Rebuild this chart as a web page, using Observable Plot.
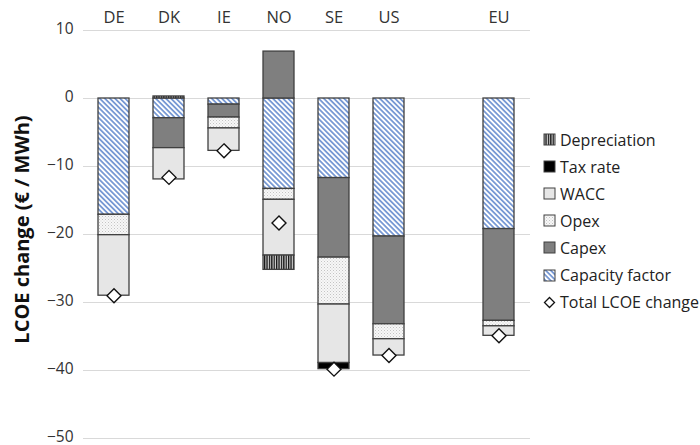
<!DOCTYPE html>
<html>
<head>
<meta charset="utf-8">
<script src="https://cdn.jsdelivr.net/npm/d3@7"></script>
<script src="https://cdn.jsdelivr.net/npm/@observablehq/plot@0.6"></script>
<style>
  body { margin: 0; background: #fff; font-family: "Open Sans", sans-serif; }
  #wrap { position: relative; width: 700px; height: 445px; }
  #legend { position: absolute; left: 543px; top: 126px; color: #222; font-size: 16px; }
  #legend .row { display: flex; align-items: center; height: 27.1px; }
  #legend svg { margin-right: 4px; }
</style>
</head>
<body>
<svg width="0" height="0" style="position:absolute">
  <defs>
    <pattern id="pat-cf" width="3.6" height="3.6" patternUnits="userSpaceOnUse" patternTransform="rotate(-45)">
      <rect width="3.6" height="3.6" fill="#fff"></rect>
      <line x1="0.9" y1="0" x2="0.9" y2="3.6" stroke="#4472c4" stroke-width="1.3"></line>
    </pattern>
    <pattern id="pat-opex" width="3" height="3" patternUnits="userSpaceOnUse">
      <rect width="3" height="3" fill="#f7f7f7"></rect>
      <rect x="0" y="0" width="1" height="1" fill="#c4c4c4"></rect>
      <rect x="1.5" y="1.5" width="1" height="1" fill="#d4d4d4"></rect>
    </pattern>
    <pattern id="pat-dep" width="2.4" height="4" patternUnits="userSpaceOnUse">
      <rect width="2.4" height="4" fill="#d8d8d8"></rect>
      <rect x="0" y="0" width="1.3" height="4" fill="#111"></rect>
    </pattern>
  </defs>
</svg>
<div id="wrap">
  <div id="chart"></div>
  <div id="legend"></div>
</div>
<script>
// Categories along the x axis (EU is set apart by an empty slot)
const countries = ["DE", "DK", "IE", "NO", "SE", "US", "EU"];
const xSlots = ["DE", "DK", "IE", "NO", "SE", "US", "gap", "EU"];

// LCOE change contributions, €/MWh, in the order DE, DK, IE, NO, SE, US, EU
const capacityFactor = [-17.1, -2.9, -0.9, -13.3, -11.7, -20.3, -19.2];
const capex          = [  0.0, -4.4, -1.9,   6.9, -11.7, -12.9, -13.5];
const opex           = [ -3.0,  0.0, -1.6,  -1.6,  -6.9,  -2.2,  -0.8];
const wacc           = [ -8.9, -4.6, -3.3,  -8.2,  -8.6,  -2.4,  -1.4];
const taxRate        = [  0.0,  0.0,  0.0,   0.0,  -0.9,   0.0,   0.0];
const depreciation   = [  0.0,  0.3,  0.0,  -2.1,   0.0,   0.0,   0.0];
const totalChange    = [-29.0, -11.6, -7.7, -18.3, -39.8, -37.8, -34.9];

const yTicks = [10, 0, -10, -20, -30, -40, -50];

// Stacking order (from zero outwards) and fills for each component
const components = [
  {name: "Capacity factor", values: capacityFactor, fill: "url(#pat-cf)"},
  {name: "Capex", values: capex, fill: "#7f7f7f"},
  {name: "Opex", values: opex, fill: "url(#pat-opex)"},
  {name: "WACC", values: wacc, fill: "#e6e6e6"},
  {name: "Tax rate", values: taxRate, fill: "#000000"},
  {name: "Depreciation", values: depreciation, fill: "url(#pat-dep)"}
];
const legendOrder = ["Depreciation", "Tax rate", "WACC", "Opex", "Capex", "Capacity factor"];

const rows = [];
countries.forEach((c, i) => {
  components.forEach(comp => {
    if (comp.values[i] !== 0) rows.push({country: c, component: comp.name, value: comp.values[i], fill: comp.fill});
  });
});
const totals = countries.map((c, i) => ({country: c, total: totalChange[i]}));

const chart = Plot.plot({
  width: 700,
  height: 445,
  marginLeft: 83,
  marginRight: 170,
  marginTop: 30,
  marginBottom: 7,
  style: {fontFamily: "Open Sans", fontSize: "15px", color: "#333", background: "#fff", overflow: "visible"},
  x: {domain: xSlots, paddingInner: 0.43, paddingOuter: 0.215, axis: null},
  y: {domain: [-50, 10], axis: null},
  color: {type: "identity"},
  marks: [
    Plot.gridY(yTicks, {stroke: "#d9d9d9", strokeOpacity: 1, strokeWidth: 1}),
    Plot.axisX({anchor: "top", tickSize: 0, tickPadding: 8, fontSize: 16.5, label: null, tickFormat: d => d === "gap" ? "" : d}),
    Plot.axisY(yTicks, {anchor: "left", tickSize: 0, tickPadding: 10, fontSize: 15.5, dy: -1, label: null}),
    Plot.text(["LCOE change (€ / MWh)"], {frameAnchor: "left", textAnchor: "middle", rotate: -90, dx: -61, dy: -5, fontSize: 20, fontWeight: "bold", fill: "#111"}),
    Plot.barY(rows, {x: "country", y: "value", fill: "fill", stroke: "#404040", strokeWidth: 1.3}),
    Plot.dot(totals, {x: "country", y: "total", symbol: "diamond2", r: 6.3, fill: "#fff", stroke: "#111", strokeWidth: 1.4})
  ]
});
document.getElementById("chart").appendChild(chart);

// Legend: swatches share the fills used by the bars
const legend = d3.select("#legend");
legendOrder.forEach(name => {
  const comp = components.find(c => c.name === name);
  const row = legend.append("div").attr("class", "row");
  const sw = row.append("svg").attr("width", 13).attr("height", 13);
  sw.append("rect").attr("x", 1).attr("y", 1).attr("width", 11).attr("height", 11)
    .attr("fill", comp.fill).attr("stroke", "#404040").attr("stroke-width", 1);
  row.append("span").text(name);
});
const tRow = legend.append("div").attr("class", "row");
const tsw = tRow.append("svg").attr("width", 13).attr("height", 13);
tsw.append("path").attr("d", "M6.5,1.5L11.5,6.5L6.5,11.5L1.5,6.5Z").attr("fill", "#fff").attr("stroke", "#111").attr("stroke-width", 1.3);
tRow.append("span").text("Total LCOE change");
</script>
</body>
</html>
